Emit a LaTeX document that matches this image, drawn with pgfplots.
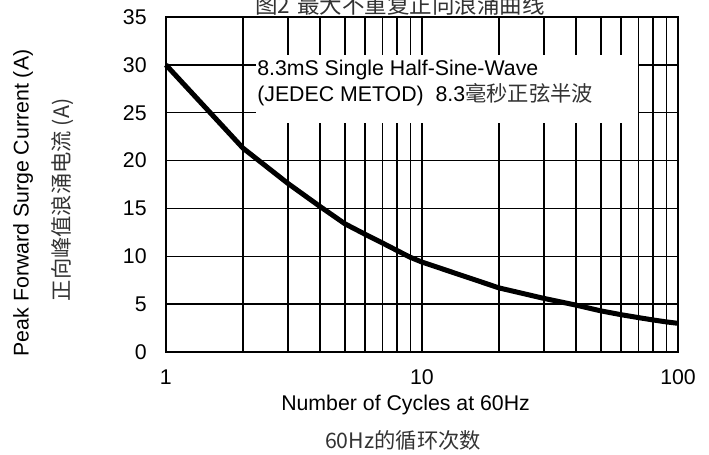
\documentclass[border=0pt]{standalone}
\usepackage{pgfplots}
\pgfplotsset{compat=1.18}
\usepackage{fontspec}
\setmainfont{Liberation Sans}
\newfontfamily\cjk{Noto Sans CJK SC}

\begin{document}
\fontsize{21.3}{25}\selectfont
\begin{tikzpicture}
\begin{axis}[
    name=ax,
    xmode=log,
    width=512pt, height=335pt,
    scale only axis,
    xmin=1, xmax=100,
    ymin=0, ymax=35,
    xtick={1,10,100},
    xticklabels={1,10,100},
    ytick={0,5,...,35},
    xmajorgrids, xminorgrids, ymajorgrids,
    grid style={black, line width=1.5pt},
    minor grid style={black, line width=1.5pt},
    axis line style={line width=2pt},
    major tick length=0pt, minor tick length=0pt,
    /pgf/number format/assume math mode=true,
    tick label style={font=\fontsize{21.3}{25}\selectfont},
    yticklabel style={xshift=-12pt},
    xticklabel style={yshift=-10pt},
    clip=false,
]
% white text box over the grid
\fill[white] (axis cs:2.25,23.9) rectangle (axis cs:69.8,31.0);

\addplot[black, line width=5pt, sharp plot] coordinates {
    (1,30) (2,21.3) (3,17.6) (4,15.2) (5,13.4) (6,12.3) (7,11.4)
    (8,10.6) (9,9.9) (10,9.4) (20,6.7) (30,5.6) (40,4.9) (50,4.3)
    (60,3.9) (70,3.6) (80,3.35) (90,3.15) (100,3.0)
};

\node[anchor=west, inner sep=0pt] at (axis cs:2.27,29.5) {8.3mS Single Half-Sine-Wave};
\node[anchor=west, inner sep=0pt] at (axis cs:2.27,26.9) {(JEDEC METOD)\ \ 8.3{\cjk\color{black!80}毫秒正弦半波}};

\node at (axis description cs:0.457,1.036) {\fontsize{22.5}{26}\selectfont\cjk\color{black!80}图2\hspace{0.3em}最大不重复正向浪涌曲线};
\node at (axis description cs:0.468,-0.158) {Number of Cycles at 60Hz};
\node at (axis description cs:0.463,-0.263) {\cjk\color{black!80}60Hz的循环次数};
\node[rotate=90] at (axis description cs:-0.279,0.445) {Peak Forward Surge Current (A)};
\node[rotate=90] at (axis description cs:-0.201,0.454) {\cjk\color{black!80}正向峰值浪涌电流 (A)};

\coordinate (bl) at (axis description cs:-0.324,-0.3045);
\coordinate (tr) at (axis description cs:1.0605,1.0507);
\end{axis}
\pgfresetboundingbox
\useasboundingbox (bl) rectangle (tr);
\end{tikzpicture}
\end{document}
